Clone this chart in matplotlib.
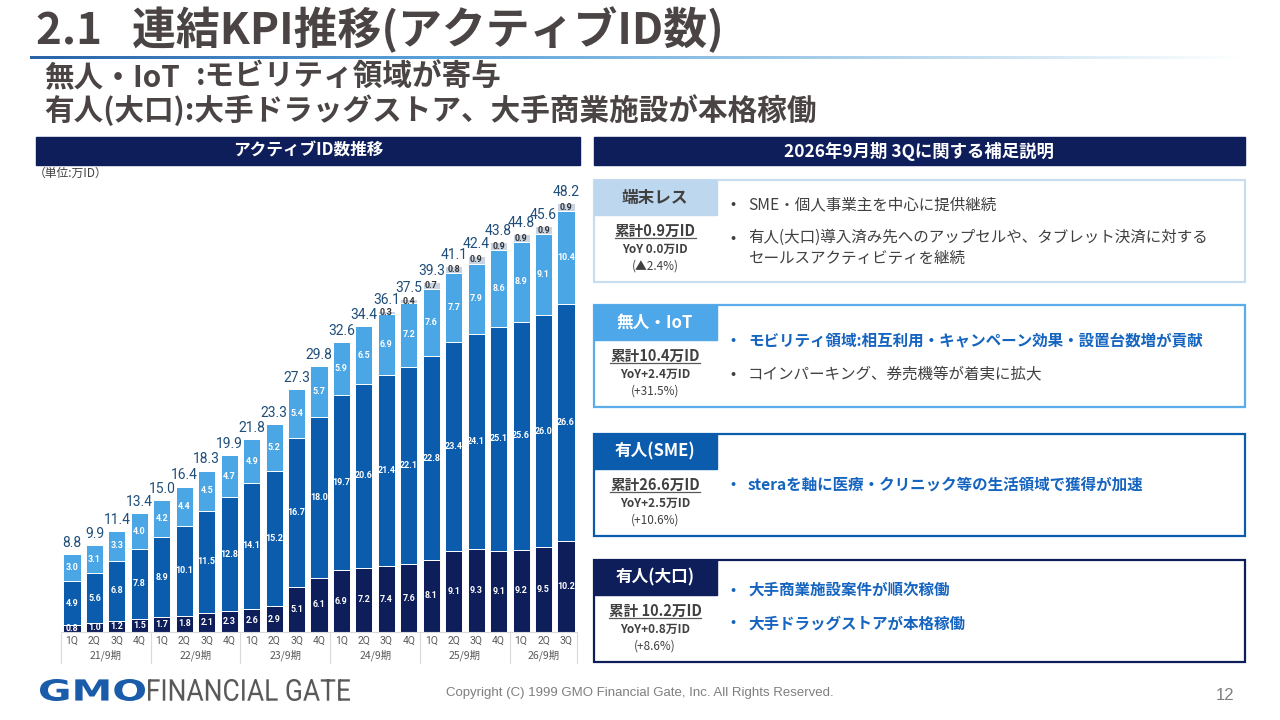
import matplotlib
matplotlib.use("Agg")
import matplotlib.pyplot as plt
import numpy as np
from matplotlib.patches import Rectangle, PathPatch
from matplotlib.colors import LinearSegmentedColormap
from matplotlib.textpath import TextPath
from matplotlib.font_manager import FontProperties
from matplotlib.transforms import Affine2D

plt.rcParams['font.family'] = ['Noto Sans CJK JP', 'DejaVu Sans']

# ---- data (万ID) ----
quarters = ["1Q", "2Q", "3Q", "4Q"] * 5 + ["1Q", "2Q", "3Q"]
periods = ["21/9期", "22/9期", "23/9期", "24/9期", "25/9期", "26/9期"]
period_len = [4, 4, 4, 4, 4, 3]
yuujin_ooguchi = [0.8, 1.0, 1.2, 1.5, 1.7, 1.8, 2.1, 2.3, 2.6, 2.9, 5.1, 6.1,
                  6.9, 7.2, 7.4, 7.6, 8.1, 9.1, 9.3, 9.1, 9.2, 9.5, 10.2]
yuujin_sme = [4.9, 5.6, 6.8, 7.8, 8.9, 10.1, 11.5, 12.8, 14.1, 15.2, 16.7, 18.0,
              19.7, 20.6, 21.4, 22.1, 22.8, 23.4, 24.1, 25.1, 25.6, 26.0, 26.6]
mujin_iot = [3.0, 3.1, 3.3, 4.0, 4.2, 4.4, 4.5, 4.7, 4.9, 5.2, 5.4, 5.7,
             5.9, 6.5, 6.9, 7.2, 7.6, 7.7, 7.9, 8.6, 8.9, 9.1, 10.4]
tanmatsu_less = [0] * 14 + [0.3, 0.4, 0.7, 0.8, 0.9, 0.9, 0.9, 0.9, 0.9]
totals = [8.8, 9.9, 11.4, 13.4, 15.0, 16.4, 18.3, 19.9, 21.8, 23.3, 27.3, 29.8,
          32.6, 34.4, 36.1, 37.5, 39.3, 41.1, 42.4, 43.8, 44.8, 45.6, 48.2]

NAVY = "#0E1E5B"
MID = "#0B5CAD"
LIGHT = "#4BA6E6"
GREY = "#C8D4E3"
TXT = "#4A4444"
BLUE_TXT = "#1565C0"

W, H = 1280, 720
fig = plt.figure(figsize=(W / 100, H / 100), dpi=100)

# overlay in pixel coords
ov = fig.add_axes([0, 0, 1, 1], zorder=0)
ov.axis("off")


def fitted_text(s, x0, x1, y_top, y_bot, color, **fp):
    # text path stretched into a pixel box (for the logo lettering)
    p = TextPath((0, 0), s, size=10, prop=FontProperties(**fp))
    ext = p.get_extents()
    sx = (x1 - x0) / ext.width
    sy = (y_bot - y_top) / ext.height
    tf = Affine2D().translate(-ext.x0, -ext.y0).scale(sx, -sy).translate(x0, y_bot)
    ov.add_patch(PathPatch(tf.transform_path(p), color=color, lw=0))


# title
ov.text(36, 30, "2.1   連結KPI推移(アクティブID数)", fontsize=31.6, fontweight="bold",
        color=TXT, va="center", ha="left")
grad = np.linspace(0, 1, 400).reshape(1, -1)
cmap = LinearSegmentedColormap.from_list("g", ["#2A63A8", "#5AA2DA", "#A9CFEA", "#FFFFFF"])
ov.imshow(grad, cmap=cmap, extent=[30, 1245, 59.5, 56.5], aspect="auto", zorder=1)

ov.text(44, 77, "無人・IoT", fontsize=21.3, fontweight="bold", color=TXT, va="center")
ov.text(196, 77, ":モビリティ領域が寄与", fontsize=21.3, fontweight="bold", color=TXT, va="center")
ov.text(44, 110, "有人(大口):大手ドラッグストア、大手商業施設が本格稼働", fontsize=21.3,
        fontweight="bold", color=TXT, va="center")

# header bars
ov.add_patch(Rectangle((36, 137), 544, 28, color=NAVY))
ov.text(308, 151, "アクティブID数推移", color="white", fontsize=12, fontweight="bold",
        ha="center", va="center")
ov.add_patch(Rectangle((594, 137), 651, 28, color=NAVY))
ov.text(919, 151, "2026年9月期 3Qに関する補足説明", color="white", fontsize=12.5,
        fontweight="bold", ha="center", va="center")
ov.text(34, 173, "（単位:万ID）", fontsize=8.5, color="#404040", va="center")

# right panel boxes
boxes = [
    dict(y=180, label="端末レス", lab_fc="#BDD7EE", lab_tc="#404040", edge="#C9DDF0",
         stats=["累計0.9万ID", "YoY 0.0万ID", "(▲2.4%)"],
         bullets=[("SME・個人事業主を中心に提供継続", False, 205),
                  ("有人(大口)導入済み先へのアップセルや、タブレット決済に対する\nセールスアクティビティを継続", False, 248)]),
    dict(y=305, label="無人・IoT", lab_fc="#4DA7E8", lab_tc="white", edge="#5AADEA",
         stats=["累計10.4万ID", "YoY+2.4万ID", "(+31.5%)"],
         bullets=[("モビリティ領域:相互利用・キャンペーン効果・設置台数増が貢献", True, 340),
                  ("コインパーキング、券売機等が着実に拡大", False, 374)]),
    dict(y=434, label="有人(SME)", lab_fc=MID, lab_tc="white", edge=MID,
         stats=["累計26.6万ID", "YoY+2.5万ID", "(+10.6%)"],
         bullets=[("steraを軸に医療・クリニック等の生活領域で獲得が加速", True, 485)]),
    dict(y=560, label="有人(大口)", lab_fc=NAVY, lab_tc="white", edge=NAVY,
         stats=["累計 10.2万ID", "YoY+0.8万ID", "(+8.6%)"],
         bullets=[("大手商業施設案件が順次稼働", True, 590),
                  ("大手ドラッグストアが本格稼働", True, 623)]),
]
stat_texts = []
for b in boxes:
    y0 = b["y"]
    ov.add_patch(Rectangle((594, y0), 651, 102, fill=False, ec=b["edge"], lw=1.6, zorder=2))
    ov.add_patch(Rectangle((594, y0), 123, 35, color=b["lab_fc"], zorder=3))
    ov.text(655, y0 + 17.5, b["label"], color=b["lab_tc"], fontsize=12,
            fontweight="bold", ha="center", va="center", zorder=4)
    t = ov.text(655, y0 + 51, b["stats"][0], color="#404040", fontsize=10.5,
                fontweight="bold", ha="center", va="center")
    stat_texts.append(t)
    ov.text(655, y0 + 69, b["stats"][1], color="#404040", fontsize=8.5,
            fontweight="bold", ha="center", va="center")
    ov.text(655, y0 + 86, b["stats"][2], color="#404040", fontsize=8.5,
            ha="center", va="center")
    for text, bold, yy in b["bullets"]:
        col = BLUE_TXT if bold else "#404040"
        first_y = yy if "\n" not in text else yy - 10
        ov.text(733, first_y, "•", color=col, fontsize=11, ha="center", va="center")
        ov.text(748, yy, text, color=col, fontsize=11.2, fontweight="bold" if bold else "normal",
                ha="left", va="center", linespacing=1.35)

# footer
fitted_text("GMO", 40, 145, 679, 701, "#1A5BAA", family="DejaVu Sans", weight="bold")
fitted_text("FINANCIAL GATE", 148, 350, 679, 701, "#595959", family="Roboto")
ov.text(640, 693, "Copyright (C) 1999 GMO Financial Gate, Inc. All Rights Reserved.",
        fontsize=9.5, color="#7F7F7F", family="Liberation Sans", ha="center", va="center")
ov.text(1225, 695, "12", fontsize=12, color="#7F7F7F", ha="center", va="center",
        family="Liberation Sans")

ov.set_xlim(0, W)
ov.set_ylim(H, 0)

# ---- bar chart ----
ax = fig.add_axes([60.8 / W, (H - 632) / H, 516.4 / W, 462 / H], zorder=2)
ax.patch.set_alpha(0)
x = np.arange(len(quarters))
bw = 0.76
series = [(yuujin_ooguchi, NAVY, "white"), (yuujin_sme, MID, "white"),
          (mujin_iot, LIGHT, "white"), (tanmatsu_less, GREY, "#333333")]
bottom = np.zeros(len(x))
for vals, col, tcol in series:
    vals = np.array(vals, dtype=float)
    ax.bar(x, vals, bw, bottom=bottom, color=col, edgecolor="white", linewidth=0.7)
    for xi, v, b0 in zip(x, vals, bottom):
        if v > 0:
            ax.text(xi, b0 + v / 2, f"{v:.1f}", color=tcol, fontsize=6.4,
                    fontweight="bold", ha="center", va="center", family="Roboto")
    bottom += vals
for xi, top, tot in zip(x, bottom, totals):
    ax.annotate(f"{tot:.1f}", (xi, top), xytext=(0, 3), textcoords="offset points",
                ha="center", va="bottom", fontsize=10, color="#1F4E79",
                family="Roboto")

ax.set_xlim(-0.5, len(x) - 0.5)
ax.set_ylim(0, 51.8)
ax.set_yticks([])
for s in ["top", "right", "left"]:
    ax.spines[s].set_visible(False)
ax.spines["bottom"].set_color("#D9D9D9")
ax.set_xticks(x)
ax.set_xticklabels(quarters, fontsize=7.5, color="#595959", family="Roboto")
ax.tick_params(axis="x", length=0, pad=3)

tr = ax.get_xaxis_transform()
start = -0.5
for name, n in zip(periods, period_len):
    ax.plot([start, start], [0, -0.068], transform=tr, color="#D9D9D9", lw=0.8, clip_on=False)
    ax.text(start + n / 2, -0.05, name, transform=tr, ha="center", va="center",
            fontsize=7.5, color="#595959")
    start += n
ax.plot([start, start], [0, -0.068], transform=tr, color="#D9D9D9", lw=0.8, clip_on=False)

# underline the 累計 texts
fig.canvas.draw()
r = fig.canvas.get_renderer()
inv = ov.transData.inverted()
for t in stat_texts:
    bb = t.get_window_extent(r)
    (xa, ya), (xb, yb) = inv.transform([(bb.x0, bb.y0), (bb.x1, bb.y0)])
    ov.plot([xa, xb], [ya - 1, yb - 1], color="#595959", lw=0.9)

fig.savefig("out.png", dpi=100)
